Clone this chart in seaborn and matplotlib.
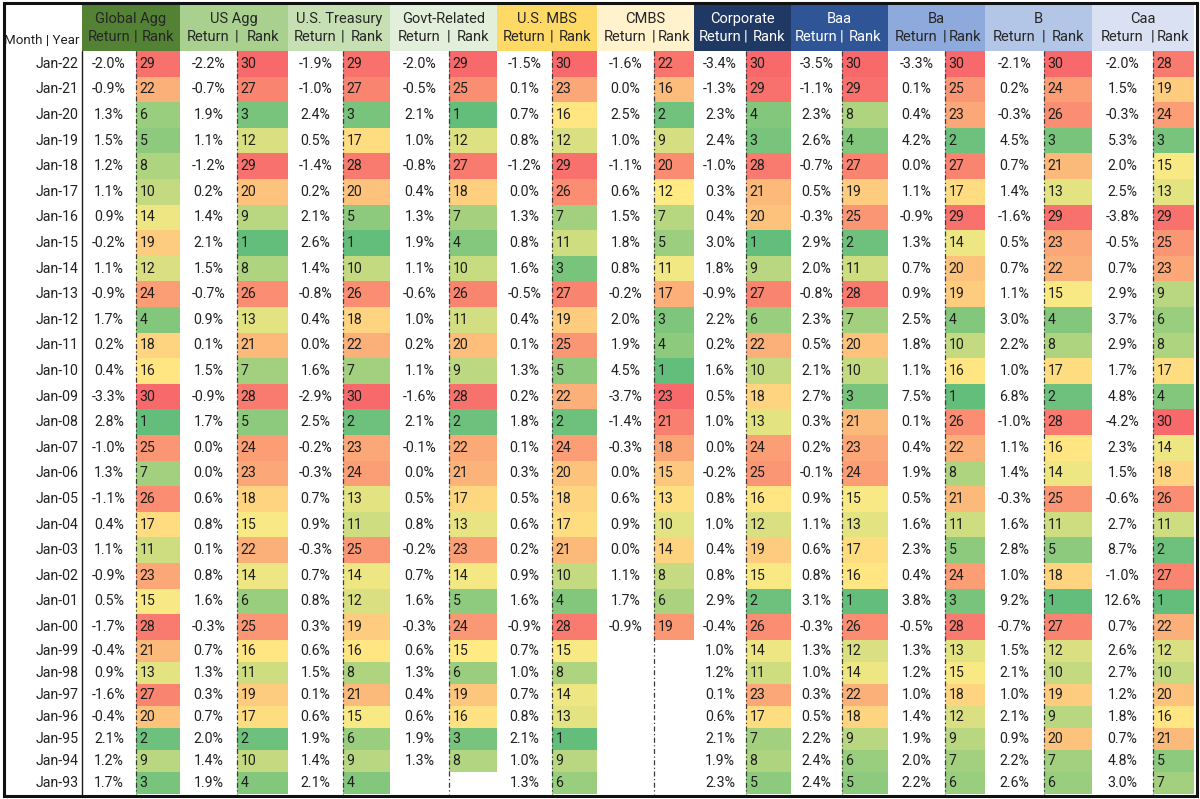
import numpy as np
import matplotlib
matplotlib.use("Agg")
import matplotlib.pyplot as plt
from matplotlib.colors import LinearSegmentedColormap
from matplotlib.patches import Rectangle
import seaborn as sns

# ---------------- data ----------------
months = ["Jan-22", "Jan-21", "Jan-20", "Jan-19", "Jan-18", "Jan-17", "Jan-16", "Jan-15",
          "Jan-14", "Jan-13", "Jan-12", "Jan-11", "Jan-10", "Jan-09", "Jan-08", "Jan-07",
          "Jan-06", "Jan-05", "Jan-04", "Jan-03", "Jan-02", "Jan-01", "Jan-00", "Jan-99",
          "Jan-98", "Jan-97", "Jan-96", "Jan-95", "Jan-94", "Jan-93"]

categories = ["Global Agg", "US Agg", "U.S. Treasury", "Govt-Related", "U.S. MBS", "CMBS",
              "Corporate", "Baa", "Ba", "B", "Caa"]

global_agg_return = [-2.0, -0.9, 1.3, 1.5, 1.2, 1.1, 0.9, -0.2, 1.1, -0.9, 1.7, 0.2, 0.4, -3.3, 2.8,
                     -1.0, 1.3, -1.1, 0.4, 1.1, -0.9, 0.5, -1.7, -0.4, 0.9, -1.6, -0.4, 2.1, 1.2, 1.7]
global_agg_rank = [29, 22, 6, 5, 8, 10, 14, 19, 12, 24, 4, 18, 16, 30, 1,
                   25, 7, 26, 17, 11, 23, 15, 28, 21, 13, 27, 20, 2, 9, 3]

us_agg_return = [-2.2, -0.7, 1.9, 1.1, -1.2, 0.2, 1.4, 2.1, 1.5, -0.7, 0.9, 0.1, 1.5, -0.9, 1.7,
                 0.0, 0.0, 0.6, 0.8, 0.1, 0.8, 1.6, -0.3, 0.7, 1.3, 0.3, 0.7, 2.0, 1.4, 1.9]
us_agg_rank = [30, 27, 3, 12, 29, 20, 9, 1, 8, 26, 13, 21, 7, 28, 5,
               24, 23, 18, 15, 22, 14, 6, 25, 16, 11, 19, 17, 2, 10, 4]

treasury_return = [-1.9, -1.0, 2.4, 0.5, -1.4, 0.2, 2.1, 2.6, 1.4, -0.8, 0.4, 0.0, 1.6, -2.9, 2.5,
                   -0.2, -0.3, 0.7, 0.9, -0.3, 0.7, 0.8, 0.3, 0.6, 1.5, 0.1, 0.6, 1.9, 1.4, 2.1]
treasury_rank = [29, 27, 3, 17, 28, 20, 5, 1, 10, 26, 18, 22, 7, 30, 2,
                 23, 24, 13, 11, 25, 14, 12, 19, 16, 8, 21, 15, 6, 9, 4]

govt_related_return = [-2.0, -0.5, 2.1, 1.0, -0.8, 0.4, 1.3, 1.9, 1.1, -0.6, 1.0, 0.2, 1.1, -1.6, 2.1,
                       -0.1, 0.0, 0.5, 0.8, -0.2, 0.7, 1.6, -0.3, 0.6, 1.3, 0.4, 0.6, 1.9, 1.3, None]
govt_related_rank = [29, 25, 1, 12, 27, 18, 7, 4, 10, 26, 11, 20, 9, 28, 2,
                     22, 21, 17, 13, 23, 14, 5, 24, 15, 6, 19, 16, 3, 8, None]

mbs_return = [-1.5, 0.1, 0.7, 0.8, -1.2, 0.0, 1.3, 0.8, 1.6, -0.5, 0.4, 0.1, 1.3, 0.2, 1.8,
              0.1, 0.3, 0.5, 0.6, 0.2, 0.9, 1.6, -0.9, 0.7, 1.0, 0.7, 0.8, 2.1, 1.0, 1.3]
mbs_rank = [30, 23, 16, 12, 29, 26, 7, 11, 3, 27, 19, 25, 5, 22, 2,
            24, 20, 18, 17, 21, 10, 4, 28, 15, 8, 14, 13, 1, 9, 6]

cmbs_return = [-1.6, 0.0, 2.5, 1.0, -1.1, 0.6, 1.5, 1.8, 0.8, -0.2, 2.0, 1.9, 4.5, -3.7, -1.4,
               -0.3, 0.0, 0.6, 0.9, 0.0, 1.1, 1.7, -0.9, None, None, None, None, None, None, None]
cmbs_rank = [22, 16, 2, 9, 20, 12, 7, 5, 11, 17, 3, 4, 1, 23, 21,
             18, 15, 13, 10, 14, 8, 6, 19, None, None, None, None, None, None, None]

corporate_return = [-3.4, -1.3, 2.3, 2.4, -1.0, 0.3, 0.4, 3.0, 1.8, -0.9, 2.2, 0.2, 1.6, 0.5, 1.0,
                    0.0, -0.2, 0.8, 1.0, 0.4, 0.8, 2.9, -0.4, 1.0, 1.2, 0.1, 0.6, 2.1, 1.9, 2.3]
corporate_rank = [30, 29, 4, 3, 28, 21, 20, 1, 9, 27, 6, 22, 10, 18, 13,
                  24, 25, 16, 12, 19, 15, 2, 26, 14, 11, 23, 17, 7, 8, 5]

baa_return = [-3.5, -1.1, 2.3, 2.6, -0.7, 0.5, -0.3, 2.9, 2.0, -0.8, 2.3, 0.5, 2.1, 2.7, 0.3,
              0.2, -0.1, 0.9, 1.1, 0.6, 0.8, 3.1, -0.3, 1.3, 1.0, 0.3, 0.5, 2.2, 2.4, 2.4]
baa_rank = [30, 29, 8, 4, 27, 19, 25, 2, 11, 28, 7, 20, 10, 3, 21,
            23, 24, 15, 13, 17, 16, 1, 26, 12, 14, 22, 18, 9, 6, 5]

ba_return = [-3.3, 0.1, 0.4, 4.2, 0.0, 1.1, -0.9, 1.3, 0.7, 0.9, 2.5, 1.8, 1.1, 7.5, 0.1,
             0.4, 1.9, 0.5, 1.6, 2.3, 0.4, 3.8, -0.5, 1.3, 1.2, 1.0, 1.4, 1.9, 2.0, 2.2]
ba_rank = [30, 25, 23, 2, 27, 17, 29, 14, 20, 19, 4, 10, 16, 1, 26,
           22, 8, 21, 11, 5, 24, 3, 28, 13, 15, 18, 12, 9, 7, 6]

b_return = [-2.1, 0.2, -0.3, 4.5, 0.7, 1.4, -1.6, 0.5, 0.7, 1.1, 3.0, 2.2, 1.0, 6.8, -1.0,
            1.1, 1.4, -0.3, 1.6, 2.8, 1.0, 9.2, -0.7, 1.5, 2.1, 1.0, 2.1, 0.9, 2.2, 2.6]
b_rank = [30, 24, 26, 3, 21, 13, 29, 23, 22, 15, 4, 8, 17, 2, 28,
          16, 14, 25, 11, 5, 18, 1, 27, 12, 10, 19, 9, 20, 7, 6]

caa_return = [-2.0, 1.5, -0.3, 5.3, 2.0, 2.5, -3.8, -0.5, 0.7, 2.9, 3.7, 2.9, 1.7, 4.8, -4.2,
              2.3, 1.5, -0.6, 2.7, 8.7, -1.0, 12.6, 0.7, 2.6, 2.7, 1.2, 1.8, 0.7, 4.8, 3.0]
caa_rank = [28, 19, 24, 3, 15, 13, 29, 25, 23, 9, 6, 8, 17, 4, 30,
            14, 18, 26, 11, 2, 27, 1, 22, 12, 10, 20, 16, 21, 5, 7]

returns = [global_agg_return, us_agg_return, treasury_return, govt_related_return, mbs_return,
           cmbs_return, corporate_return, baa_return, ba_return, b_return, caa_return]
ranks = [global_agg_rank, us_agg_rank, treasury_rank, govt_related_rank, mbs_rank,
         cmbs_rank, corporate_rank, baa_rank, ba_rank, b_rank, caa_rank]

# ---------------- style / layout ----------------
header_colors = ["#548235", "#A9D08E", "#C6E0B4", "#E2EFDA", "#FFD966", "#FFF2CC",
                 "#203864", "#2F5597", "#8EA9DB", "#B4C6E7", "#D9E1F2"]
header_text_colors = ["#262626"] * 6 + ["white", "white"] + ["#262626"] * 3

W, H = 1200, 799
block_edges = [82, 180, 288, 390, 497, 597, 694, 791, 888, 985, 1092, 1194]
rank_starts = [136, 237, 343, 449, 552, 654, 746, 842, 945, 1044, 1153]
header_top, header_bottom = 5, 51
n_top = 23
row_edges = np.concatenate([header_bottom + 25.6 * np.arange(n_top + 1),
                            header_bottom + 25.6 * n_top + 22.0 * np.arange(1, 8)])
row_centers = (row_edges[:-1] + row_edges[1:]) / 2

sns.set_theme(style="white")
plt.rcParams['font.family'] = ['Roboto', 'DejaVu Sans']
txt_color = "#222222"
fs = 10.2

cmap = LinearSegmentedColormap.from_list("excel3", ["#63BE7B", "#FFEB84", "#F8696B"])

fig = plt.figure(figsize=(W / 100, H / 100), dpi=100)
fig.patch.set_facecolor("white")

bg = fig.add_axes([0, 0, 1, 1])
bg.set_xlim(0, W)
bg.set_ylim(H, 0)
bg.axis("off")

# header
bg.text(79, 41, "Month | Year", ha="right", va="center", fontsize=9.6, color=txt_color)
for i, cat in enumerate(categories):
    x0, x1 = block_edges[i], block_edges[i + 1]
    rs = rank_starts[i]
    bg.add_patch(Rectangle((x0, header_top), x1 - x0, header_bottom - header_top,
                           facecolor=header_colors[i], edgecolor="none"))
    tc = header_text_colors[i]
    bg.text((x0 + x1) / 2, 19, cat, ha="center", va="center", fontsize=10.5, color=tc)
    bg.text((x0 + rs) / 2, 37, "Return", ha="center", va="center", fontsize=10.5, color=tc)
    bg.text(rs, 37, "|", ha="center", va="center", fontsize=10.5, color=tc)
    bg.text((rs + x1) / 2, 37, "Rank", ha="center", va="center", fontsize=10.5, color=tc)

# month labels
for r, m in enumerate(months):
    bg.text(79, row_centers[r], m, ha="right", va="center", fontsize=fs, color=txt_color)

# return values
for i in range(len(categories)):
    xc = (block_edges[i] + rank_starts[i]) / 2
    for r, v in enumerate(returns[i]):
        if v is None:
            continue
        bg.text(xc, row_centers[r], f"{v:.1f}%", ha="center", va="center",
                fontsize=fs, color=txt_color)

# rank heatmaps (per column colour scale)
for i in range(len(categories)):
    vals = np.array([np.nan if v is None else v for v in ranks[i]], dtype=float)
    vmax = np.nanmax(vals)
    center = np.nanmedian(vals)
    x0, x1 = rank_starts[i], block_edges[i + 1]
    for (a, b) in [(0, n_top), (n_top, len(months))]:
        part = vals[a:b].reshape(-1, 1)
        if np.all(np.isnan(part)):
            continue
        y0, y1 = row_edges[a], row_edges[b]
        hax = fig.add_axes([x0 / W, 1 - y1 / H, (x1 - x0) / W, (y1 - y0) / H])
        sns.heatmap(part, ax=hax, cmap=cmap, vmin=1, vmax=vmax, center=center,
                    mask=np.isnan(part), cbar=False, annot=True, fmt=".0f",
                    annot_kws={"color": "#1f1f1f", "fontsize": fs},
                    xticklabels=False, yticklabels=False)
        hax.axis("off")
        for t in hax.texts:
            _, ty = t.get_position()
            t.set_position((3.5 / (x1 - x0), ty))
            t.set_ha("left")

# overlay: separators and border
ov = fig.add_axes([0, 0, 1, 1])
ov.set_xlim(0, W)
ov.set_ylim(H, 0)
ov.axis("off")
ov.patch.set_alpha(0)
for rs in rank_starts:
    ov.plot([rs, rs], [header_bottom, row_edges[-1]], color="#3a3a3a", lw=0.9,
            linestyle=(0, (4, 2, 1, 2)))
ov.plot([82, 82], [header_bottom, row_edges[-1] + 1], color="#1a1a1a", lw=1.0)
ov.add_patch(Rectangle((3.5, 3), 1193, 793, fill=False, edgecolor="#111111", lw=2.2))

fig.savefig("out.png", dpi=100, facecolor="white")
